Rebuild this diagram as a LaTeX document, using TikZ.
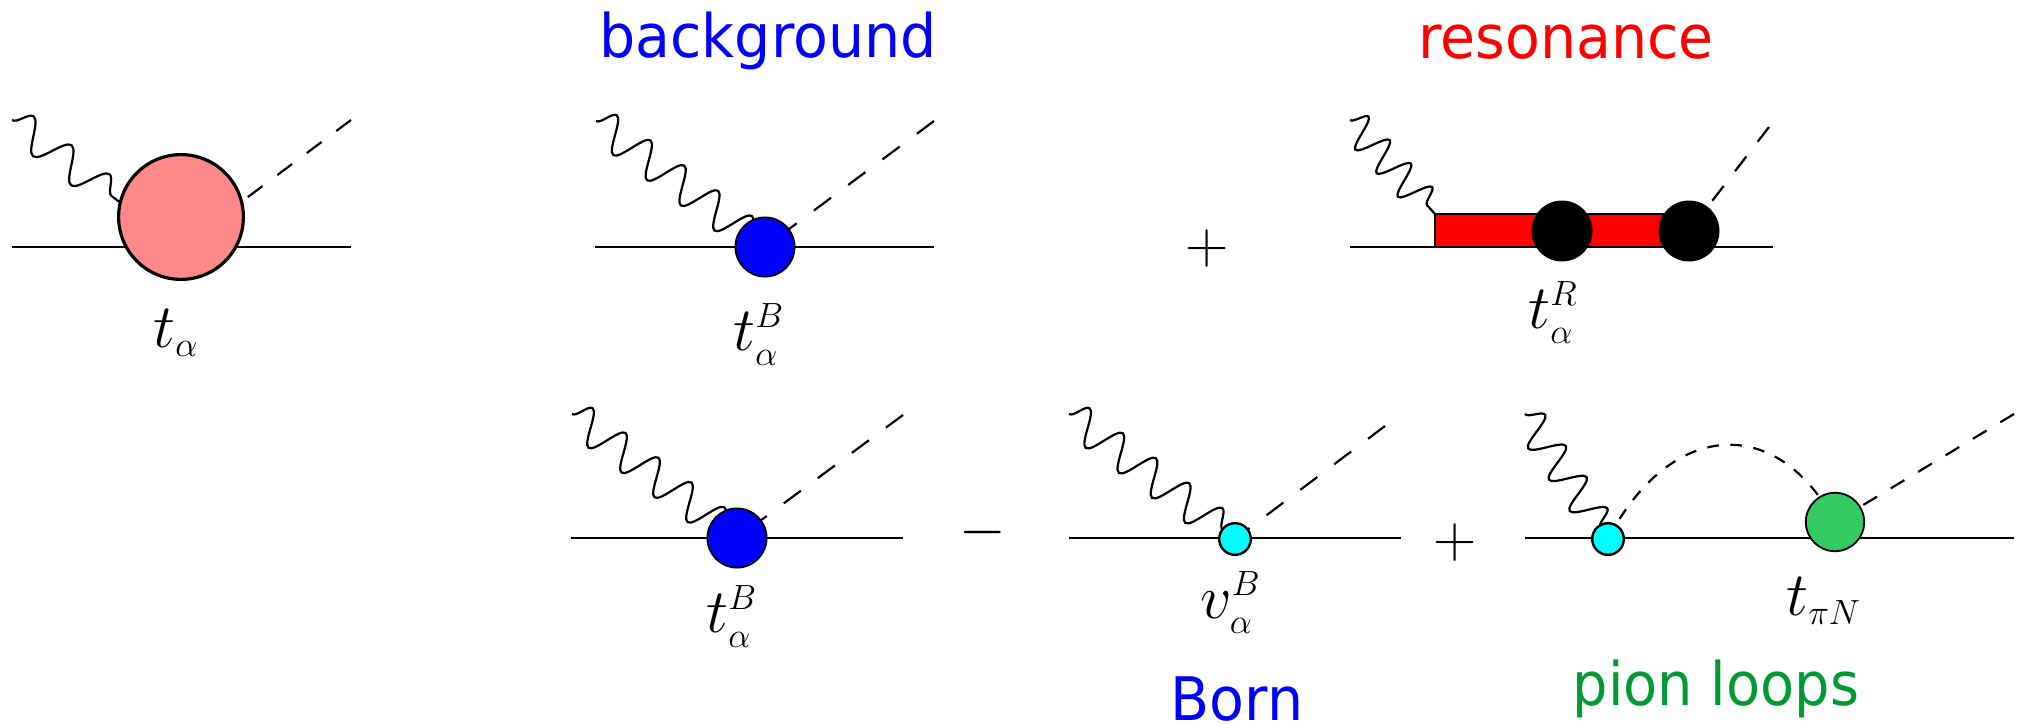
\RequirePackage{fix-cm}
\documentclass[tikz,border=0pt]{standalone}
\usepackage{graphicx}
\usepackage{fontspec}
\usetikzlibrary{decorations.pathmorphing,shapes.geometric,backgrounds}
\newfontfamily\lab[FakeStretch=0.95]{DejaVu Sans}
\newfontfamily\labn[FakeStretch=0.93]{DejaVu Sans}
\DeclareMathSizes{31}{31}{17.5}{12}
\definecolor{salmonblob}{HTML}{FF8888}
\definecolor{greenblob}{HTML}{35CB63}
\definecolor{loopgreen}{HTML}{009933}
\definecolor{cyanblob}{HTML}{00FFFF}
\definecolor{pureblue}{HTML}{0000FF}
\definecolor{purered}{HTML}{FF0000}
\tikzset{
  x=0.5pt,y=-0.5pt,
  fermion/.style={line width=1.3pt},
  photon/.style 2 args={line width=1.1pt,decorate,decoration={snake,amplitude=#1pt,segment length=#2pt}},
  pion/.style={line width=1.1pt,dash pattern=on #1pt off #1pt},
  vtx/.style={circle,draw=black,inner sep=0pt,outer sep=0pt},
  bigblob/.style={vtx,line width=1.6pt,fill=salmonblob,minimum size=62.4pt},
  blueblob/.style={vtx,line width=0.9pt,fill=pureblue,minimum size=29.6pt},
  smallblob/.style={vtx,line width=1.2pt,fill=cyanblob,minimum size=15.8pt},
  greenb/.style={vtx,line width=0.9pt,fill=greenblob,minimum size=29.2pt},
  blackblob/.style={circle,fill=black,inner sep=0pt,outer sep=0pt,minimum size=30.5pt},
  propbar/.style={rectangle,draw=black,line width=1.2pt,fill=purered,inner sep=0pt,outer sep=0pt,minimum width=127pt,minimum height=16.5pt},
  mathlabel/.style={anchor=base west,inner sep=0pt,font=\fontsize{31}{36}\selectfont},
  title/.style={anchor=base,inner sep=0pt,font=\lab\fontsize{30}{36}\selectfont},
  opsign/.style={inner sep=0pt,font=\fontsize{30}{36}\selectfont}
}
\begin{document}
\begin{tikzpicture}
\useasboundingbox (0,0) rectangle (2024,723);
% vertices
\node[bigblob] (A) at (181,217) {};
\node[blueblob] (B) at (765,247) {};
\node[propbar] (bar) at (1562,230.5) {};
\node[blackblob] (R1) at (1562,231) {};
\node[blackblob] (R2) at (1689,231) {};
\node[blueblob] (C) at (737,538) {};
\node[smallblob] (D) at (1235,539) {};
\node[smallblob] (E) at (1608,539) {};
\node[greenb] (F) at (1835,522) {};
% free ends
\coordinate (Al) at (12,247); \coordinate (Ar) at (351,247);
\coordinate (Aw) at (12,120); \coordinate (Awe) at (126,207);
\coordinate (Ap) at (351,120); \coordinate (Ape) at (181,247);
\coordinate (Bl) at (595,247); \coordinate (Br) at (934,247);
\coordinate (Bw) at (596,121); \coordinate (Bp) at (934,121);
\coordinate (Rl) at (1350,247); \coordinate (Rr) at (1773,247);
\coordinate (Rw) at (1350,120); \coordinate (Rp) at (1769,127);
\coordinate (Cl) at (571,538); \coordinate (Cr) at (903,538);
\coordinate (Cw) at (572,414); \coordinate (Cp) at (903,415);
\coordinate (Dl) at (1069,538); \coordinate (Dr) at (1401,538);
\coordinate (Dw) at (1069,414); \coordinate (Dp) at (1385,426);
\coordinate (El) at (1525,538); \coordinate (Er) at (2014,538);
\coordinate (Ew) at (1525,414); \coordinate (Fp) at (2014,414);
\begin{scope}[on background layer]
  \draw[fermion] (Al) -- (Ar);
  \draw[photon={8}{23.88}] (Aw) -- (Awe);
  \draw[pion=9.2] (Ap) -- (Ape);
  \draw[fermion] (Bl) -- (Br);
  \draw[photon={8.5}{21.07}] (Bw) -- (B.center);
  \draw[pion=10.7] (Bp) -- (B.center);
  \draw[fermion] (Rl) -- (Rr);
  \draw[photon={8}{15.83}] (Rw) -- (bar.north west);
  \draw[pion=9.3] (Rp) -- (R2.center);
  \draw[fermion] (Cl) -- (Cr);
  \draw[photon={8.5}{20.63}] (Cw) -- (C.center);
  \draw[pion=10.6] (Cp) -- (C.center);
  \draw[fermion] (Dl) -- (Dr);
  \draw[photon={8.5}{20.77}] (Dw) -- (D.center);
  \draw[pion=10.6] (Dp) -- (D.center);
  \draw[fermion] (El) -- (Er);
  \draw[photon={8.2}{18.75}] (Ew) -- (E.center);
  \draw[pion=5.8] (E.center) .. controls (1670,420) and (1777,413) .. (F.center);
  \draw[pion=8] (Fp) -- (F.center);
\end{scope}
% math labels
\node[mathlabel] (la) at (153,347) {$t_{\alpha}$};
\node[mathlabel] (lb) at (733,350) {$t_{\alpha}^{B}$};
\node[mathlabel] (lr) at (1528,328) {$t_{\alpha}^{R}$};
\node[mathlabel] (lc) at (706,632) {$t_{\alpha}^{B}$};
\node[mathlabel] (ld) at (1200,618) {$v_{\alpha}^{B}$};
\node[mathlabel] (le) at (1786,615) {$t_{\pi N}$};
% operators
\node[opsign] (plus1) at (1207,248) {$+$};
\node[opsign] (minus) at (983,532) {$-$};
\node[opsign] (plus2) at (1455,542) {$+$};
% titles
\node[title,text=pureblue] (t1) at (768,57) {background};
\node[title,text=purered] (t2) at (1566,58) {resonance};
\node[title,text=pureblue] (t3) at (1237,720) {Born};
\node[title,font=\labn\fontsize{30}{36}\selectfont,text=loopgreen] (t4) at (1716,705) {pion loops};
\end{tikzpicture}
\end{document}
